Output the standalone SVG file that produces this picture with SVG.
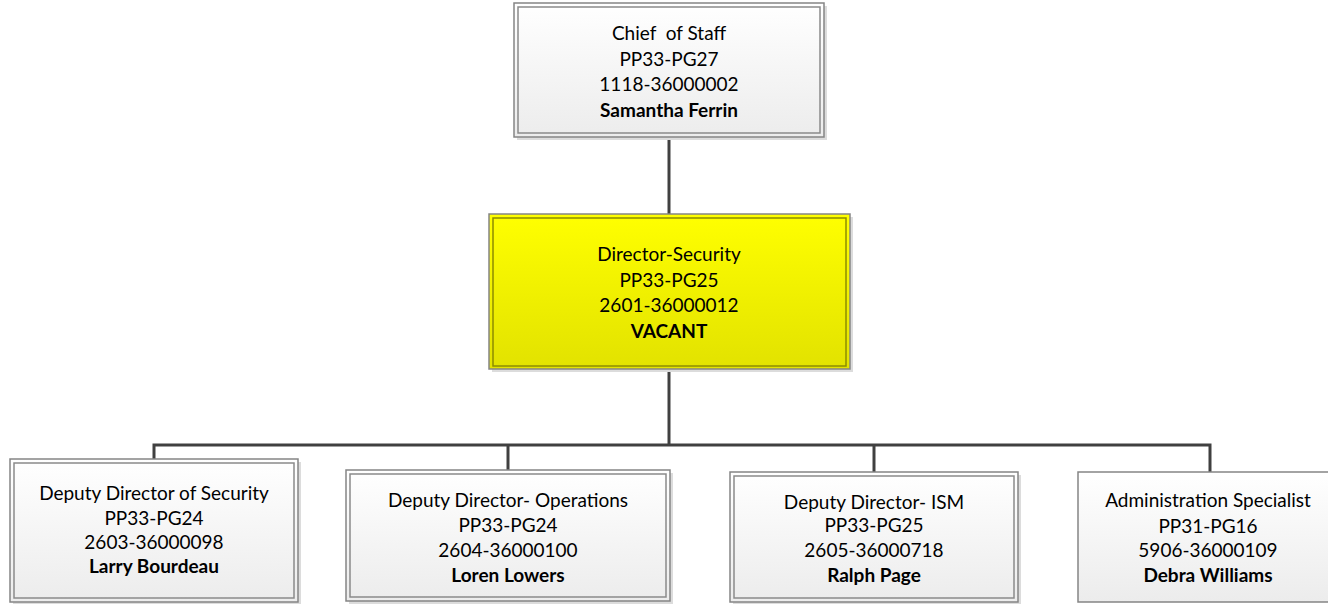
<svg xmlns="http://www.w3.org/2000/svg" width="1328" height="604" viewBox="0 0 1328 604">
  <defs>
    <linearGradient id="gGray" x1="0" y1="0" x2="0" y2="1">
      <stop offset="0" stop-color="#ffffff"/>
      <stop offset="1" stop-color="#ececec"/>
    </linearGradient>
    <linearGradient id="gYellow" x1="0" y1="0" x2="0" y2="1">
      <stop offset="0" stop-color="#ffff00"/>
      <stop offset="1" stop-color="#e2e200"/>
    </linearGradient>
    <style>
      .shadow { fill: #dcdcdc; }
      .outer { fill: url(#gGray); stroke: #858585; stroke-width: 1.5; }
      .inner { fill: none; stroke: #8a8a8a; stroke-width: 1.5; }
      .outerY { fill: url(#gYellow); stroke: #858585; stroke-width: 1.5; }
      .innerY { fill: none; stroke: #8c8c00; stroke-width: 1.5; }
      .conn { fill: none; stroke: #404040; stroke-width: 3; }
      text { font-family: Lato, "Open Sans", "Liberation Sans", sans-serif; font-size: 19px; fill: #000000; text-anchor: middle; white-space: pre; }
      .b { font-weight: bold; }
    </style>
  </defs>

  <g id="connectors">
    <line class="conn" x1="669" y1="137" x2="669" y2="214"/>
    <line class="conn" x1="669" y1="369" x2="669" y2="445"/>
    <polyline class="conn" points="154,459 154,445 1210,445 1210,472"/>
    <line class="conn" x1="508" y1="445" x2="508" y2="470"/>
    <line class="conn" x1="874" y1="445" x2="874" y2="472"/>
  </g>

  <g id="chief-of-staff">
    <rect class="shadow" x="517" y="6" width="310" height="134"/>
    <rect class="outer" x="514" y="3" width="310" height="134"/>
    <rect class="inner" x="518" y="7" width="302" height="126"/>
    <text x="669" y="40" xml:space="preserve">Chief  of Staff</text>
    <text x="669" y="66">PP33-PG27</text>
    <text x="669" y="91">1118-36000002</text>
    <text class="b" x="669" y="117">Samantha Ferrin</text>
  </g>

  <g id="director-security">
    <rect class="shadow" x="492" y="217" width="361" height="155"/>
    <rect class="outerY" x="489" y="214" width="361" height="155"/>
    <rect class="innerY" x="493" y="218" width="353" height="148"/>
    <text x="669" y="261">Director-Security</text>
    <text x="669" y="287">PP33-PG25</text>
    <text x="669" y="312">2601-36000012</text>
    <text class="b" x="669" y="338">VACANT</text>
  </g>

  <g id="deputy-security">
    <rect class="shadow" x="13" y="462" width="288" height="143"/>
    <rect class="outer" x="10" y="459" width="288" height="143"/>
    <rect class="inner" x="14" y="463" width="280" height="135"/>
    <text x="154" y="500">Deputy Director of Security</text>
    <text x="154" y="525">PP33-PG24</text>
    <text x="154" y="549">2603-36000098</text>
    <text class="b" x="154" y="573">Larry Bourdeau</text>
  </g>

  <g id="deputy-operations">
    <rect class="shadow" x="349" y="473" width="324" height="131"/>
    <rect class="outer" x="346" y="470" width="324" height="131"/>
    <rect class="inner" x="350" y="474" width="316" height="123"/>
    <text x="508" y="507">Deputy Director- Operations</text>
    <text x="508" y="532">PP33-PG24</text>
    <text x="508" y="557">2604-36000100</text>
    <text class="b" x="508" y="582">Loren Lowers</text>
  </g>

  <g id="deputy-ism">
    <rect class="shadow" x="733" y="475" width="288" height="130"/>
    <rect class="outer" x="730" y="472" width="288" height="130"/>
    <rect class="inner" x="734" y="476" width="280" height="122"/>
    <text x="874" y="509">Deputy Director- ISM</text>
    <text x="874" y="532">PP33-PG25</text>
    <text x="874" y="557">2605-36000718</text>
    <text class="b" x="874" y="582">Ralph Page</text>
  </g>

  <g id="admin-specialist">
    <rect class="outer" x="1078" y="472" width="264" height="130"/>
    <text x="1208" y="507">Administration Specialist</text>
    <text x="1208" y="533">PP31-PG16</text>
    <text x="1208" y="557">5906-36000109</text>
    <text class="b" x="1208" y="582">Debra Williams</text>
  </g>
</svg>
